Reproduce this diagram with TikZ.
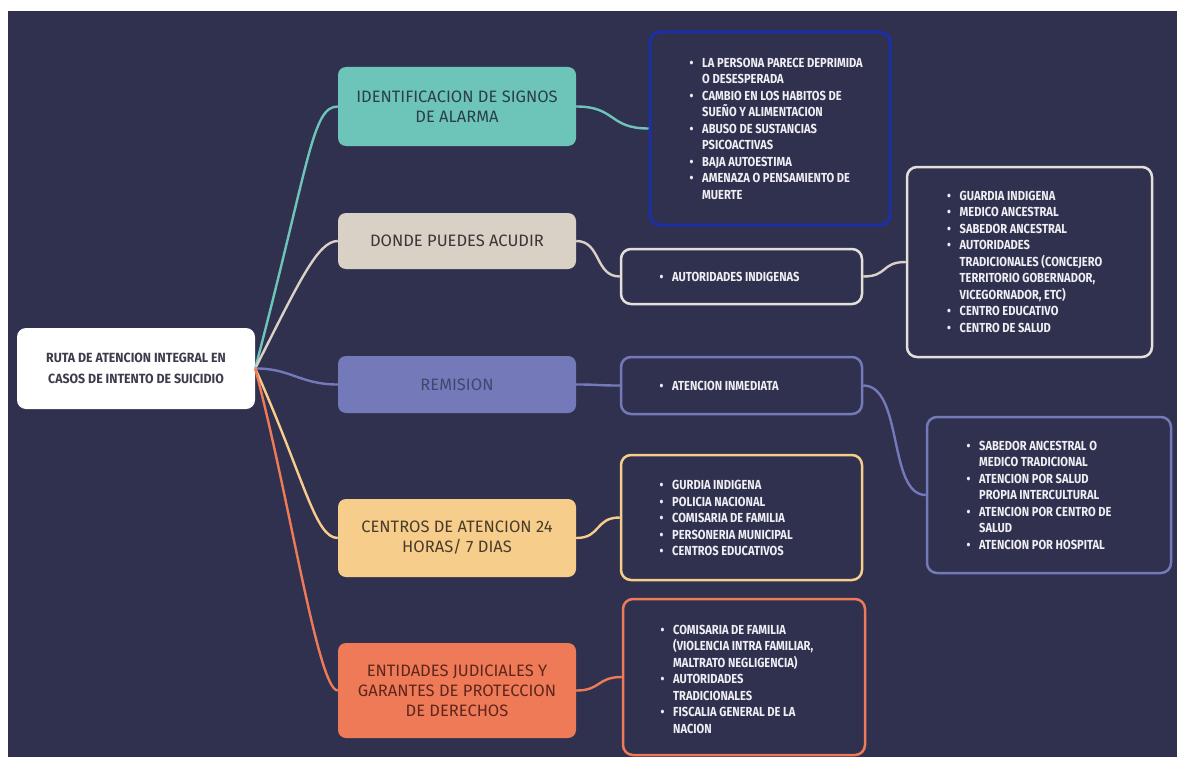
\documentclass[tikz,border=0pt]{standalone}
\usepackage{fontspec}
\setmainfont{Fira Sans}
\newfontfamily\condfam{Fira Sans}[FakeStretch=0.85]
\newfontfamily\rootfam{Fira Sans}[FakeStretch=0.93]
\newfontfamily\catfam{Fira Sans}
\newcommand\myListFont{\condfam\bfseries\fontsize{13.1}{16.5}\selectfont}
\newcommand\myCatFont{\catfam\fontsize{16.5}{20}\selectfont}
\newcommand\myRootFont{\rootfam\bfseries\fontsize{13.3}{20.5}\selectfont}
\newcommand\bul{\makebox[12.5pt][l]{•}}
\newcommand\hng{\hspace*{12.5pt}}
\definecolor{bg}{HTML}{30314F}
\definecolor{ink}{HTML}{EEEEF3}
\definecolor{cteal}{HTML}{6DC5B9}
\definecolor{cbeige}{HTML}{D9D1C6}
\definecolor{cpurple}{HTML}{7479BA}
\definecolor{cyellow}{HTML}{F6CD8A}
\definecolor{ccoral}{HTML}{EF7A57}
\definecolor{cblue}{HTML}{1B2FA6}
\definecolor{cwhiteb}{HTML}{E4E0D9}
\definecolor{tteal}{HTML}{2C3E4C}
\definecolor{tbeige}{HTML}{3A3636}
\definecolor{tpurple}{HTML}{43466E}
\definecolor{tyellow}{HTML}{4A3C2C}
\definecolor{tcoral}{HTML}{5E261C}
\definecolor{troot}{HTML}{3C3C4C}
\begin{document}
\begin{tikzpicture}[x=1pt,y=-1pt,
  cat/.style={rounded corners=8pt, minimum width=238pt, inner sep=0pt, align=center, font=\myCatFont},
  rootbox/.style={rounded corners=9pt, fill=white, minimum width=238pt, minimum height=81pt, inner sep=0pt, align=center, font=\myRootFont, text=troot},
  listbox/.style={draw, line width=2.5pt, rounded corners=10pt, fill=bg, inner sep=0pt},
  lst/.style={anchor=west, align=left, inner sep=0pt, font=\myListFont, text=ink},
  link/.style={line width=2.4pt}]
\useasboundingbox (0,0) rectangle (1177,757);
\fill[white] (0,0) rectangle (1177,757);
\fill[bg] (8,11) rectangle (1177,757);

% root
\node[rootbox] (root) at (136,368.5) {RUTA DE ATENCION INTEGRAL EN\\CASOS DE INTENTO DE SUICIDIO};

% categories
\node[cat, fill=cteal, text=tteal, minimum height=79pt] (ident) at (457,106.5) {IDENTIFICACION DE SIGNOS\\DE ALARMA};
\node[cat, fill=cbeige, text=tbeige, minimum height=56pt] (donde) at (457,241) {DONDE PUEDES ACUDIR};
\node[cat, fill=cpurple, text=tpurple, minimum height=57pt] (remi) at (457,384.5) {REMISION};
\node[cat, fill=cyellow, text=tyellow, minimum height=78pt] (centros) at (457,538) {CENTROS DE ATENCION 24\\HORAS/ 7 DIAS};
\node[cat, fill=ccoral, text=tcoral, minimum height=95pt] (entid) at (457,690.5) {ENTIDADES JUDICIALES Y\\GARANTES DE PROTECCION\\DE DERECHOS};

% list boxes
\node[listbox, draw=cblue, line width=3pt, minimum width=240pt, minimum height=193pt] (signs) at (770,128.5) {};
\node[listbox, draw=cwhiteb, minimum width=241pt, minimum height=55pt] (autor) at (741.5,276.5) {};
\node[listbox, draw=cwhiteb, minimum width=245pt, minimum height=190pt] (guard) at (1029.5,262) {};
\node[listbox, draw=cpurple, minimum width=241pt, minimum height=57pt] (atenc) at (741.5,385.5) {};
\node[listbox, draw=cpurple, minimum width=244pt, minimum height=156pt] (salud) at (1049,495) {};
\node[listbox, draw=cyellow, minimum width=241pt, minimum height=125pt] (cent24) at (741.5,517.5) {};
\node[listbox, draw=ccoral, minimum width=242pt, minimum height=156pt] (judic) at (744,677) {};

% list texts
\node[lst] (tsigns) at (689.5,128.7) {\bul LA PERSONA PARECE DEPRIMIDA\\\hng O DESESPERADA\\\bul CAMBIO EN LOS HABITOS DE\\\hng SUEÑO Y ALIMENTACION\\\bul ABUSO DE SUSTANCIAS\\\hng PSICOACTIVAS\\\bul BAJA AUTOESTIMA\\\bul AMENAZA O PENSAMIENTO DE\\\hng MUERTE};
\node[lst] (tautor) at (659.5,277) {\bul AUTORIDADES INDIGENAS};
\node[lst] (tguard) at (947,261.5) {\bul GUARDIA INDIGENA\\\bul MEDICO ANCESTRAL\\\bul SABEDOR ANCESTRAL\\\bul AUTORIDADES\\\hng TRADICIONALES (CONCEJERO\\\hng TERRITORIO GOBERNADOR,\\\hng VICEGORNADOR, ETC)\\\bul CENTRO EDUCATIVO\\\bul CENTRO DE SALUD};
\node[lst] (tatenc) at (659.5,385.5) {\bul ATENCION INMEDIATA};
\node[lst] (tsalud) at (966.5,495) {\bul SABEDOR ANCESTRAL O\\\hng MEDICO TRADICIONAL\\\bul ATENCION POR SALUD\\\hng PROPIA INTERCULTURAL\\\bul ATENCION POR CENTRO DE\\\hng SALUD\\\bul ATENCION POR HOSPITAL};
\node[lst] (tcent) at (659.5,518) {\bul GURDIA INDIGENA\\\bul POLICIA NACIONAL\\\bul COMISARIA DE FAMILIA\\\bul PERSONERIA MUNICIPAL\\\bul CENTROS EDUCATIVOS};
\node[lst] (tjudic) at (660.5,679) {\bul COMISARIA DE FAMILIA\\\hng (VIOLENCIA INTRA FAMILIAR,\\\hng MALTRATO NEGLIGENCIA)\\\bul AUTORIDADES\\\hng TRADICIONALES\\\bul FISCALIA GENERAL DE LA\\\hng NACION};

% connectors root -> categories
\draw[link, cteal] (root.east) .. controls (310,160) and (312,106.5) .. (ident.west);
\draw[link, cbeige] (root.east) .. controls (300,280) and (318,241) .. (donde.west);
\draw[link, cpurple] (root.east) .. controls (290,368) and (300,384.5) .. (remi.west);
\draw[link, cyellow] (root.east) .. controls (305,480) and (315,538) .. (centros.west);
\draw[link, ccoral] (root.east) .. controls (290,500) and (318,690.5) .. (entid.west);

% connectors categories -> lists
\draw[link, cteal] (ident.east) .. controls +(40,0) and +(-40,0) .. (signs.west);
\draw[link, cbeige] (donde.east) .. controls +(25,0) and +(-25,0) .. (autor.west);
\draw[link, cbeige] (autor.east) .. controls +(25,0) and +(-25,0) .. (guard.west);
\draw[link, cpurple] (remi.east) .. controls +(25,0) and +(-25,0) .. (atenc.west);
\draw[link, cpurple] (atenc.east) .. controls +(40,0) and +(-38,0) .. (salud.west);
\draw[link, cyellow] (centros.east) .. controls +(25,0) and +(-25,0) .. (cent24.west);
\draw[link, ccoral] (entid.east) .. controls +(25,0) and +(-25,0) .. (judic.west);
\end{tikzpicture}
\end{document}
